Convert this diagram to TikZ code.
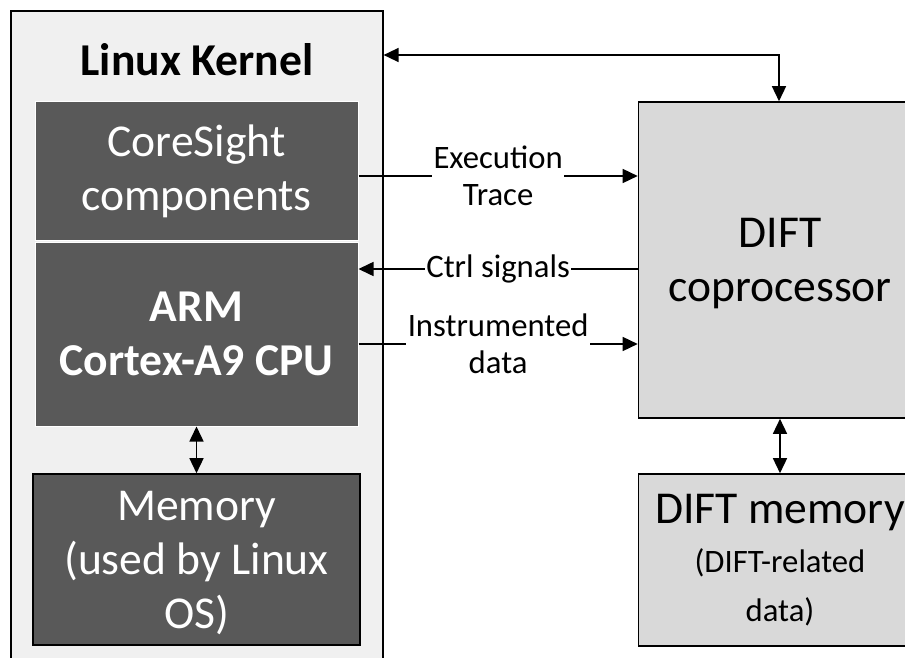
\documentclass[tikz,border=0pt]{standalone}
\usepackage{fontspec}
\setmainfont{Carlito}
\usetikzlibrary{arrows.meta}
\definecolor{kernelbg}{HTML}{F0F0F0}
\definecolor{darkbox}{HTML}{595959}
\definecolor{diftbg}{HTML}{D9D9D9}
\tikzset{
  bigtxt/.style={font=\fontsize{45.6}{54}\selectfont},
  bigbold/.style={font=\bfseries\fontsize{45.6}{54}\selectfont},
  lbltxt/.style={font=\fontsize{32.7}{37}\selectfont, fill=white, inner sep=1.5pt, align=center},
  darkbx/.style={rectangle, fill=darkbox, text=white, align=center, inner sep=0pt},
  lightbx/.style={rectangle, draw=black, line width=1.6pt, fill=diftbg, align=center, inner sep=0pt},
  tip/.tip={Triangle[length=15pt,width=14pt]},
  conn/.style={line width=1.5pt, -tip},
  bidir/.style={line width=1.5pt, tip-tip},
}
\begin{document}
\begin{tikzpicture}[x=1pt,y=-1pt]
\useasboundingbox (0,0) rectangle (905,658);
\clip (0,0) rectangle (905,658);
% Linux kernel container
\node[draw=black, line width=1.6pt, fill=kernelbg, minimum width=372pt, minimum height=690pt,
      anchor=north west, inner sep=0pt] (kernel) at (10,10) {};
\node[bigbold] (title) at (197,60) {Linux Kernel};
\node[darkbx, draw=white, line width=1pt, minimum width=323pt, minimum height=138pt, bigtxt]
      (cs) at (196.5,171) {CoreSight\\components};
\node[darkbx, draw=white, line width=1pt, minimum width=323pt, minimum height=184pt, bigbold]
      (arm) at (196.5,334) {ARM\\Cortex-A9 CPU};
\node[darkbx, draw=black, line width=1.6pt, minimum width=327pt, minimum height=171pt, bigtxt,
      text depth=0pt]
      (mem) at (196.5,559.5) {Memory\\(used by Linux\\OS)};
% DIFT side
\node[lightbx, minimum width=283pt, minimum height=316pt, bigtxt, text depth=0pt]
      (dift) at (780,260) {DIFT\\coprocessor};
\node[lightbx, minimum width=283pt, minimum height=172pt, font=\fontsize{32.7}{49}\selectfont]
      (dmem) at (780,560) {{\fontsize{45.6}{54}\selectfont DIFT memory}\\(DIFT-related\\data)};
% connectors
\draw[bidir] (arm.south) -- (mem.north);
\draw[bidir] (dift.south) -- (dmem.north);
\coordinate (topbend) at (779,55);
\draw[bidir] (topbend -| kernel.east) -- (topbend) -- (topbend |- dift.north);
\coordinate (ety) at (500,176);
\coordinate (cty) at (500,269);
\coordinate (ity) at (500,344);
\draw[conn] (ety -| cs.east) -- node[lbltxt] {Execution\\Trace} (ety -| dift.west);
\draw[conn] (cty -| dift.west) -- node[lbltxt] {Ctrl signals} (cty -| arm.east);
\draw[conn] (ity -| arm.east) -- node[lbltxt] {Instrumented\\data} (ity -| dift.west);
\end{tikzpicture}
\end{document}
